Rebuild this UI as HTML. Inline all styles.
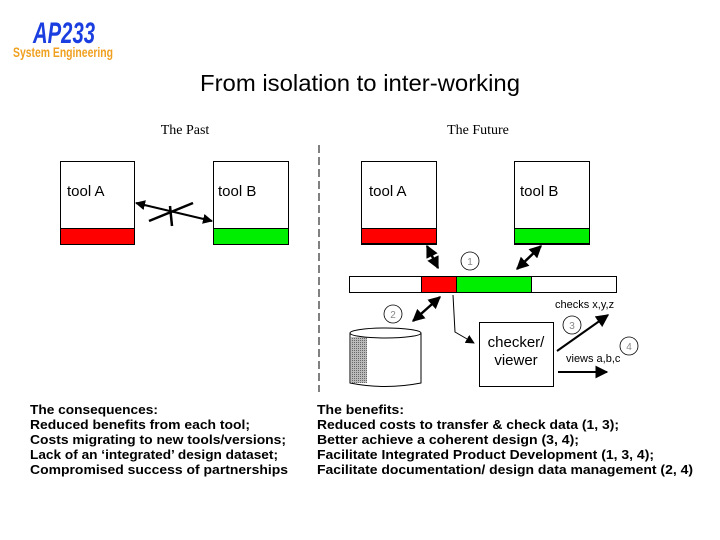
<!DOCTYPE html>
<html><head><meta charset="utf-8"><style>
html,body{margin:0;padding:0;background:#fff;}
svg{display:block;}
</style></head><body>
<svg width="720" height="540" viewBox="0 0 720 540" xmlns="http://www.w3.org/2000/svg" font-family="Liberation Sans, sans-serif">
<defs>
<marker id="ah" viewBox="0 0 10 10" refX="9" refY="5" markerWidth="5" markerHeight="5" orient="auto-start-reverse"><path d="M0,0 L10,5 L0,10 z" fill="#000"/></marker>
<marker id="ahs" viewBox="0 0 10 10" refX="9" refY="5" markerWidth="6.5" markerHeight="6.5" orient="auto"><path d="M0,0 L10,5 L0,10 z" fill="#000"/></marker>
<marker id="ahl" viewBox="0 0 10 10" refX="9" refY="5" markerWidth="9" markerHeight="9" orient="auto"><path d="M0,0 L10,5 L0,10 z" fill="#000"/></marker>
<pattern id="dots" width="2" height="2" patternUnits="userSpaceOnUse"><rect width="2" height="2" fill="#bbb"/><rect width="1" height="1" fill="#666"/></pattern>
</defs>
<!-- logo -->
<text x="33" y="43" font-size="30" font-weight="bold" fill="#1a3ee0" font-style="italic" textLength="62" lengthAdjust="spacingAndGlyphs">AP233</text>
<text x="13" y="57" font-size="14" font-weight="bold" fill="#f0a020" textLength="100" lengthAdjust="spacingAndGlyphs">System Engineering</text>
<!-- title -->
<text x="360" y="91" font-size="23" text-anchor="middle" fill="#000" textLength="320" lengthAdjust="spacingAndGlyphs">From isolation to inter-working</text>
<text x="185" y="134" font-size="14" text-anchor="middle" font-family="Liberation Serif, serif">The Past</text>
<text x="478" y="134" font-size="14" text-anchor="middle" font-family="Liberation Serif, serif">The Future</text>
<line x1="319" y1="145" x2="319" y2="392" stroke="#000" stroke-dasharray="8,4" stroke-width="1"/>
<!-- past -->
<rect x="60.5" y="161.5" width="74" height="83" fill="#fff" stroke="#000"/>
<rect x="60.5" y="228.5" width="74" height="16" fill="#f00" stroke="#000"/>
<text x="67" y="196" font-size="15">tool A</text>
<rect x="213.5" y="161.5" width="75" height="83" fill="#fff" stroke="#000"/>
<rect x="213.5" y="228.5" width="75" height="16" fill="#0e0" stroke="#000"/>
<text x="218" y="196" font-size="15">tool B</text>
<line x1="136" y1="203" x2="212" y2="221" stroke="#000" stroke-width="2" marker-start="url(#ah)" marker-end="url(#ah)"/>
<line x1="149" y1="221" x2="193" y2="203" stroke="#000" stroke-width="2.5"/>
<line x1="170" y1="206" x2="172" y2="226" stroke="#000" stroke-width="2.5"/>
<!-- future -->
<rect x="361.5" y="161.5" width="75" height="83" fill="#fff" stroke="#000"/>
<rect x="361.5" y="228.5" width="75" height="15" fill="#f00" stroke="#000"/>
<text x="369" y="196" font-size="15">tool A</text>
<rect x="514.5" y="161.5" width="75" height="83" fill="#fff" stroke="#000"/>
<rect x="514.5" y="228.5" width="75" height="15" fill="#0e0" stroke="#000"/>
<text x="520" y="196" font-size="15">tool B</text>
<rect x="349.5" y="276.5" width="267" height="16" fill="#fff" stroke="#000"/>
<rect x="421.5" y="276.5" width="35" height="16" fill="#f00" stroke="#000"/>
<rect x="456.5" y="276.5" width="75" height="16" fill="#0e0" stroke="#000"/>
<line x1="427" y1="246" x2="438" y2="268" stroke="#000" stroke-width="2.5" marker-start="url(#ah)" marker-end="url(#ah)"/>
<line x1="541" y1="246" x2="517" y2="269" stroke="#000" stroke-width="2.5" marker-start="url(#ah)" marker-end="url(#ah)"/>
<line x1="440" y1="297" x2="413" y2="321" stroke="#000" stroke-width="2.5" marker-start="url(#ah)" marker-end="url(#ah)"/>
<circle cx="470" cy="261" r="9" fill="#fff" stroke="#000" stroke-width="0.8"/>
<text x="470" y="265" font-size="10" text-anchor="middle" fill="#888">1</text>
<circle cx="393" cy="314" r="9" fill="#fff" stroke="#000" stroke-width="0.8"/>
<text x="393" y="318" font-size="10" text-anchor="middle" fill="#888">2</text>
<circle cx="572" cy="325" r="9" fill="#fff" stroke="#000" stroke-width="0.8"/>
<text x="572" y="329" font-size="10" text-anchor="middle" fill="#888">3</text>
<circle cx="629" cy="346" r="9" fill="#fff" stroke="#000" stroke-width="0.8"/>
<text x="629" y="350" font-size="10" text-anchor="middle" fill="#888">4</text>
<!-- cylinder -->
<path d="M350,333 L350,383 Q385,390 421,383 L421,333" fill="#fff" stroke="#000"/>
<rect x="351" y="337" width="16" height="46" fill="url(#dots)"/>
<ellipse cx="385.5" cy="333" rx="35.5" ry="5" fill="#fff" stroke="#000"/>
<!-- checker -->
<polyline points="453,295 455,332 474,343" fill="none" stroke="#000" stroke-width="1" marker-end="url(#ahl)"/>
<rect x="479.5" y="322.5" width="74" height="64" fill="#fff" stroke="#000"/>
<text x="516" y="347" font-size="15" text-anchor="middle">checker/</text>
<text x="516" y="365" font-size="15" text-anchor="middle">viewer</text>
<text x="555" y="308" font-size="11">checks x,y,z</text>
<text x="566" y="362" font-size="11">views a,b,c</text>
<line x1="557" y1="351" x2="608" y2="315" stroke="#000" stroke-width="2" marker-end="url(#ahs)"/>
<line x1="558" y1="372" x2="607" y2="372" stroke="#000" stroke-width="2" marker-end="url(#ahs)"/>
<!-- bottom text -->
<g font-size="13" font-weight="bold">
<text x="30" y="414" textLength="128" lengthAdjust="spacingAndGlyphs">The consequences:</text>
<text x="30" y="429" textLength="220" lengthAdjust="spacingAndGlyphs">Reduced benefits from each tool;</text>
<text x="30" y="444" textLength="256" lengthAdjust="spacingAndGlyphs">Costs migrating to new tools/versions;</text>
<text x="30" y="459" textLength="248" lengthAdjust="spacingAndGlyphs">Lack of an ‘integrated’ design dataset;</text>
<text x="30" y="474" textLength="258" lengthAdjust="spacingAndGlyphs">Compromised success of partnerships</text>
<text x="317" y="414" textLength="87" lengthAdjust="spacingAndGlyphs">The benefits:</text>
<text x="317" y="429" textLength="302" lengthAdjust="spacingAndGlyphs">Reduced costs to transfer &amp; check data (1, 3);</text>
<text x="317" y="444" textLength="262" lengthAdjust="spacingAndGlyphs">Better achieve a coherent design (3, 4);</text>
<text x="317" y="459" textLength="337" lengthAdjust="spacingAndGlyphs">Facilitate Integrated Product Development (1, 3, 4);</text>
<text x="317" y="474" textLength="376" lengthAdjust="spacingAndGlyphs">Facilitate documentation/ design data management (2, 4)</text>
</g>
</svg>
</body></html>
